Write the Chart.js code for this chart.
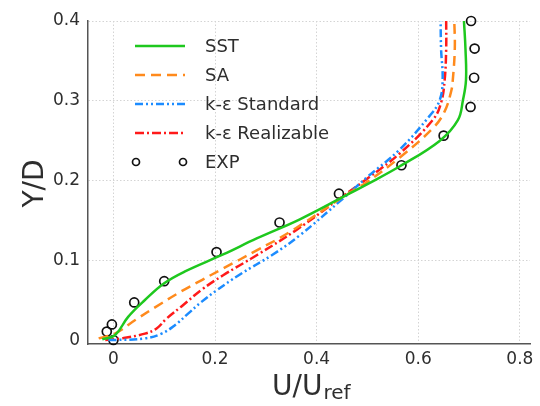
<!DOCTYPE html>
<html><head><meta charset="utf-8">
<script src="https://cdn.jsdelivr.net/npm/chart.js@4.4.1/dist/chart.umd.min.js"></script>
<style>html,body{margin:0;padding:0;background:#fff;}</style>
</head><body>
<canvas id="c" width="540" height="406"></canvas>
<script>
// ---- data (U/Uref vs Y/D) ----
const sstU = [-0.022, 0.003, 0.029, 0.062, 0.100, 0.140, 0.216, 0.282, 0.367, 0.452, 0.500, 0.563, 0.642, 0.678, 0.688, 0.694, 0.693, 0.690];
const sstY = [0.002, 0.007, 0.030, 0.051, 0.072, 0.0865, 0.108, 0.128, 0.152, 0.180, 0.196, 0.218, 0.250, 0.276, 0.301, 0.326, 0.365, 0.400];

const saU = [-0.029, 0.003, 0.043, 0.095, 0.134, 0.174, 0.216, 0.282, 0.347, 0.452, 0.500, 0.563, 0.629, 0.652, 0.665, 0.668, 0.672, 0.671];
const saY = [0.003, 0.009, 0.026, 0.047, 0.062, 0.076, 0.0905, 0.113, 0.136, 0.180, 0.199, 0.229, 0.266, 0.287, 0.3125, 0.326, 0.366, 0.400];

const keStdU = [-0.010, 0.003, 0.062, 0.095, 0.121, 0.147, 0.174, 0.203, 0.249, 0.314, 0.367, 0.452, 0.500, 0.563, 0.622, 0.642, 0.648, 0.645, 0.644];
const keStdY = [0.001, 0.001, 0.003, 0.009, 0.0195, 0.034, 0.049, 0.063, 0.083, 0.108, 0.132, 0.178, 0.205, 0.239, 0.281, 0.3005, 0.326, 0.365, 0.400];

const keRealU = [-0.016, 0.016, 0.062, 0.085, 0.105, 0.134, 0.174, 0.216, 0.282, 0.361, 0.452, 0.500, 0.563, 0.629, 0.645, 0.652, 0.655, 0.655];
const keRealY = [0.001, 0.003, 0.009, 0.0155, 0.028, 0.043, 0.064, 0.082, 0.107, 0.139, 0.181, 0.203, 0.234, 0.2766, 0.2979, 0.326, 0.365, 0.400];

const expU = [0.704, 0.711, 0.710, 0.703, 0.650, 0.567, 0.444, 0.327, 0.203, 0.100, 0.041, -0.003, -0.013, 0.000];
const expY = [0.400, 0.3655, 0.329, 0.2925, 0.2566, 0.2196, 0.184, 0.148, 0.111, 0.0746, 0.048, 0.0205, 0.0116, 0.001];

const xTicks = [0, 0.2, 0.4, 0.6, 0.8];
const yTicks = [0, 0.1, 0.2, 0.3, 0.4];
const seriesNames = ['SST', 'SA', 'k-ε Standard', 'k-ε Realizable', 'EXP'];
const xTitleMain = 'U/U';
const xTitleSub = 'ref';
const yTitle = 'Y/D';

const pts = (xs, ys) => xs.map((x, i) => ({x: x, y: ys[i]}));

const FONT = "'DejaVu Sans', sans-serif";
const TXT = '#2e2e2e';

const legendPlugin = {
  id: 'innerLegend',
  afterDraw(chart) {
    const ctx = chart.ctx;
    const x0 = 135, x1 = 185, tx = 205;
    const rows = [46, 75, 104, 133, 162];
    ctx.save();
    chart.data.datasets.forEach((ds, i) => {
      const y = rows[i];
      if (ds.showLine === false) {
        ctx.setLineDash([]);
        ctx.lineWidth = ds.pointBorderWidth;
        ctx.strokeStyle = ds.pointBorderColor;
        [x0 + 1, x1 - 2].forEach(cx => {
          ctx.beginPath(); ctx.arc(cx, y, 3.5, 0, Math.PI * 2); ctx.stroke();
        });
      } else {
        ctx.setLineDash(ds.borderDash || []);
        ctx.lineWidth = ds.borderWidth;
        ctx.strokeStyle = ds.borderColor;
        ctx.beginPath(); ctx.moveTo(x0, y); ctx.lineTo(x1, y); ctx.stroke();
      }
      ctx.setLineDash([]);
      ctx.fillStyle = TXT;
      ctx.font = "18px " + FONT;
      ctx.textBaseline = 'middle';
      ctx.textAlign = 'left';
      ctx.fillText(ds.label, tx, y + 1);
    });
    // axis titles
    ctx.fillStyle = TXT;
    ctx.textBaseline = 'alphabetic';
    ctx.font = "28px " + FONT;
    const xs = 272, base = 395;
    ctx.fillText(xTitleMain, xs, base);
    const w = ctx.measureText(xTitleMain).width;
    ctx.font = "20px " + FONT;
    ctx.fillText(xTitleSub, xs + w + 1, base + 4);
    ctx.save();
    ctx.translate(43, 183.5);
    ctx.rotate(-Math.PI / 2);
    ctx.font = "28px " + FONT;
    ctx.textAlign = 'center';
    ctx.fillText(yTitle, 0, 0);
    ctx.restore();
    ctx.restore();
  }
};

new Chart(document.getElementById('c'), {
  type: 'line',
  data: {
    datasets: [
      {label: seriesNames[0], data: pts(sstU, sstY), borderColor: '#1ec81e', borderWidth: 2.5, pointRadius: 0, tension: 0.4, fill: false},
      {label: seriesNames[1], data: pts(saU, saY), borderColor: '#ff8a1c', borderWidth: 2.5, borderDash: [10, 6], pointRadius: 0, tension: 0.4, fill: false},
      {label: seriesNames[2], data: pts(keStdU, keStdY), borderColor: '#1c8cff', borderWidth: 2.5, borderDash: [8, 3, 2, 3, 2, 3], pointRadius: 0, tension: 0.4, fill: false},
      {label: seriesNames[3], data: pts(keRealU, keRealY), borderColor: '#ff1a1a', borderWidth: 2.5, borderDash: [9, 3, 2, 3], pointRadius: 0, tension: 0.4, fill: false},
      {label: seriesNames[4], data: pts(expU, expY), showLine: false, pointRadius: 4.5, pointBorderWidth: 1.7, pointBorderColor: '#111', pointBackgroundColor: 'rgba(0,0,0,0)', borderColor: '#111', clip: false}
    ]
  },
  options: {
    responsive: false,
    animation: false,
    devicePixelRatio: 1,
    layout: {padding: {top: 21, right: 10, left: 0, bottom: 0}},
    plugins: {legend: {display: false}, tooltip: {enabled: false}, title: {display: false}},
    scales: {
      x: {
        type: 'linear', min: -0.05, max: 0.82,
        afterBuildTicks: s => { s.ticks = xTicks.map(v => ({value: v})); },
        afterFit: s => { s.height = 62; },
        grid: {color: '#d4d4d4', lineWidth: 1, drawTicks: false},
        border: {display: true, color: '#555', width: 1.5, dash: [1.5, 2]},
        ticks: {padding: 5, color: TXT, font: {family: FONT, size: 17}, maxRotation: 0,
          callback: v => String(Math.round(v * 10) / 10)}
      },
      y: {
        type: 'linear', min: -0.004, max: 0.4,
        afterBuildTicks: s => { s.ticks = yTicks.map(v => ({value: v})); },
        afterFit: s => { s.width = 88; },
        grid: {color: c => (c.tick && c.tick.value === 0) ? 'rgba(0,0,0,0)' : '#d4d4d4', lineWidth: 1, drawTicks: false},
        border: {display: true, color: '#555', width: 1.5, dash: [1.5, 2]},
        ticks: {padding: 8, color: TXT, font: {family: FONT, size: 17},
          callback: v => String(Math.round(v * 10) / 10)}
      }
    }
  },
  plugins: [legendPlugin]
});
</script>
</body></html>
